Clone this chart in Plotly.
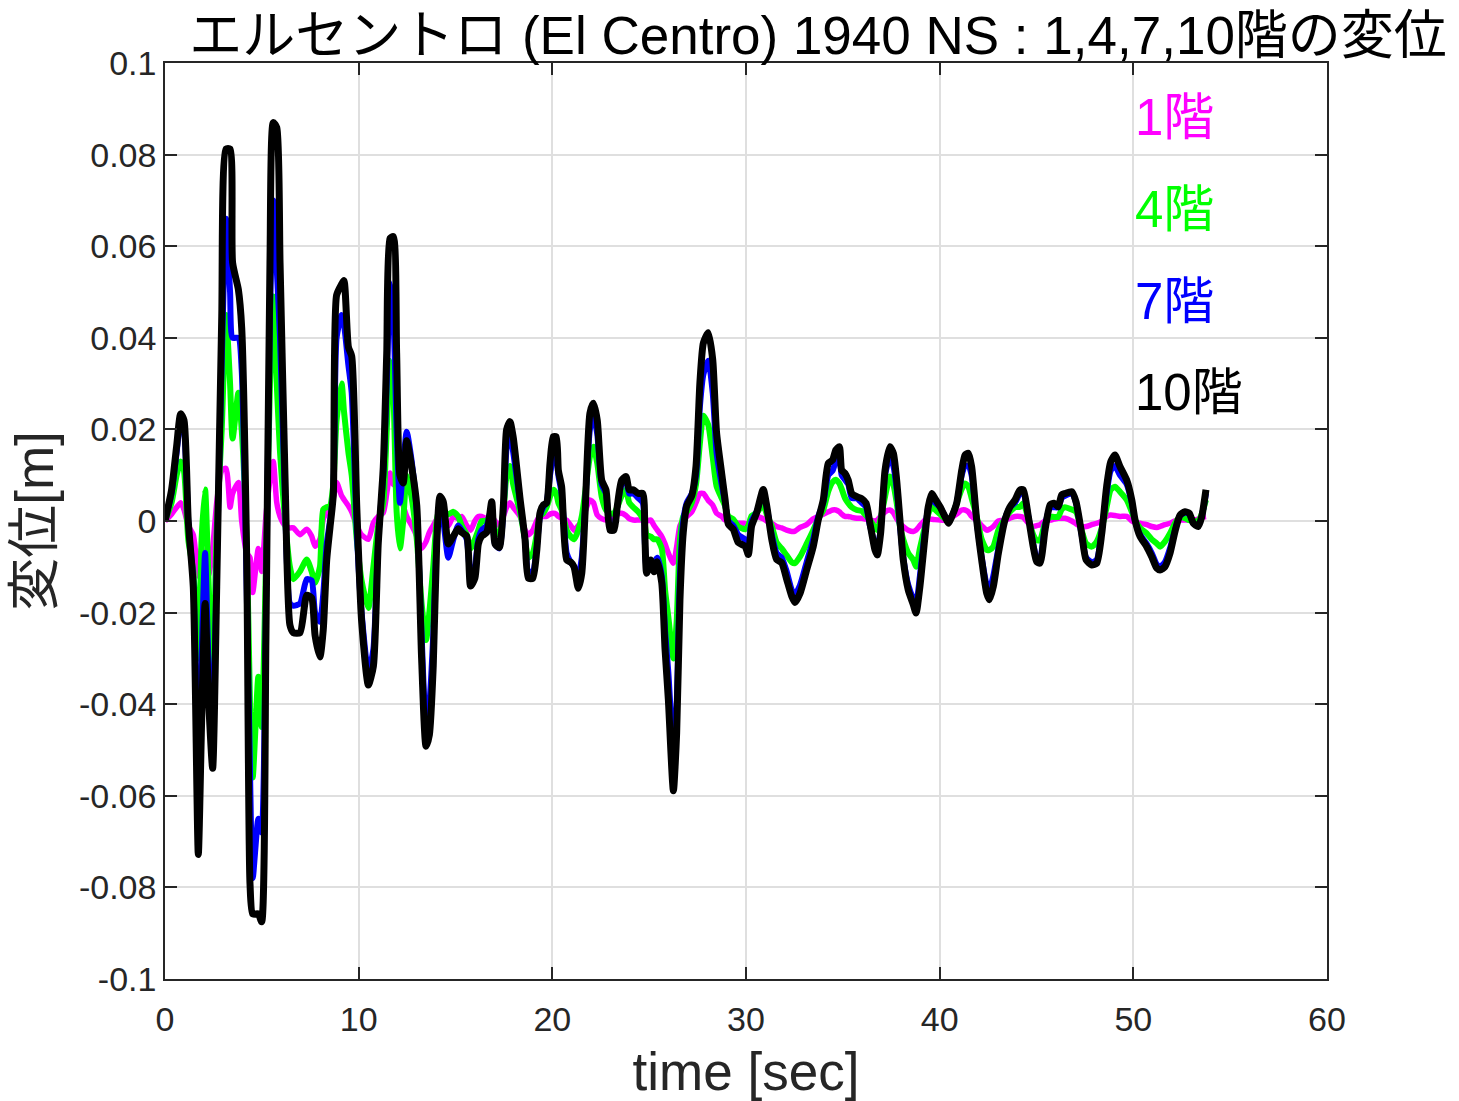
import plotly.graph_objects as go

# time [sec]
t = [0.00, 0.34, 0.60, 0.81, 0.98, 1.20, 1.46, 1.72, 1.89, 2.07, 2.24, 2.46, 2.67, 2.93, 3.15, 3.36, 3.49, 3.79, 3.96,
     4.22, 4.39, 4.53, 4.82, 4.99, 5.21, 5.42, 5.59, 5.77, 5.94, 6.20, 6.45, 6.63, 6.97, 7.32, 7.57, 7.75, 8.00, 8.17,
     8.35, 8.52, 8.69, 8.86, 9.12, 9.24, 9.47, 9.64, 9.90, 10.15, 10.50, 10.76, 11.01, 11.27, 11.45, 11.62, 11.79,
     11.96, 12.13, 12.30, 12.48, 12.74, 13.00, 13.25, 13.48, 13.65, 13.85, 14.03, 14.20, 14.37, 14.63, 14.89, 15.14,
     15.32, 15.58, 15.78, 16.00, 16.18, 16.35, 16.61, 16.87, 17.04, 17.26, 17.47, 17.64, 17.81, 17.98, 18.33, 18.59,
     18.76, 18.99, 19.19, 19.36, 19.53, 19.70, 19.88, 20.05, 20.20, 20.31, 20.48, 20.74, 20.95, 21.12, 21.34, 21.52,
     21.69, 21.94, 22.12, 22.32, 22.55, 22.77, 22.98, 23.18, 23.35, 23.58, 23.80, 23.97, 24.18, 24.44, 24.67, 24.78,
     24.87, 25.08, 25.25, 25.42, 25.65, 25.82, 25.99, 26.25, 26.42, 26.59, 26.76, 26.94, 27.20, 27.42, 27.62, 27.80,
     28.05, 28.28, 28.48, 28.74, 28.92, 29.09, 29.34, 29.60, 29.95, 30.12, 30.29, 30.55, 30.89, 31.07, 31.33, 31.58,
     31.84, 32.10, 32.36, 32.53, 32.79, 33.13, 33.47, 33.73, 33.99, 34.25, 34.47, 34.64, 34.82, 34.94, 35.11, 35.28,
     35.46, 35.72, 35.97, 36.20, 36.40, 36.66, 36.78, 36.95, 37.18, 37.43, 37.61, 37.78, 37.95, 38.12, 38.38, 38.64,
     38.78, 38.98, 39.24, 39.41, 39.59, 39.76, 40.02, 40.28, 40.45, 40.62, 40.88, 41.14, 41.31, 41.48, 41.65, 41.91,
     42.17, 42.43, 42.57, 42.77, 43.03, 43.37, 43.63, 43.89, 44.15, 44.32, 44.58, 44.83, 45.01, 45.18, 45.44, 45.70,
     45.90, 46.12, 46.30, 46.47, 46.82, 47.04, 47.33, 47.56, 47.85, 48.11, 48.37, 48.62, 48.83, 49.05, 49.31, 49.66,
     49.92, 50.09, 50.35, 50.69, 50.95, 51.21, 51.38, 51.63, 51.89, 52.15, 52.41, 52.67, 52.89, 53.10, 53.35, 53.53,
     53.75]

# 10th floor displacement [m]
x10 = [0.0, 0.0068, 0.0163, 0.0234, 0.022, 0.0, -0.0144, -0.0728, -0.0439, -0.018, -0.038, -0.054, -0.0144, 0.0446,
       0.0812, 0.0812, 0.0564, 0.0505, 0.0422, -0.0085, -0.0793, -0.0858, -0.0858, -0.0875, -0.026, 0.0564, 0.087,
       0.0859, 0.0564, 0.0092, -0.0227, -0.0244, -0.0244, -0.0162, -0.0168, -0.025, -0.0297, -0.0238, -0.0085,
       -0.0014, 0.0057, 0.0493, 0.0517, 0.0525, 0.038, 0.036, 0.0033, -0.0217, -0.0358, -0.0317, -0.005, 0.0117,
       0.0367, 0.0617, 0.0621, 0.0367, 0.01, 0.0083, 0.0175, 0.0117, 0.0033, -0.03, -0.0492, -0.0467, -0.0317, -0.005,
       0.0054, 0.0042, -0.005, -0.0033, -0.0017, -0.0025, -0.0033, -0.0142, -0.0125, -0.005, -0.0033, -0.0025, 0.0042,
       -0.005, -0.0058, 0.0033, 0.02, 0.0217, 0.0183, 0.005, -0.004, -0.0125, -0.0125, -0.0067, 0.0017, 0.0035, 0.0039,
       0.0126, 0.0184, 0.0184, 0.0111, 0.0075, -0.0085, -0.009, -0.01, -0.0147, -0.0114, 0.0017, 0.0235, 0.0257, 0.022,
       0.0089, 0.0068, -0.002, -0.002, 0.0031, 0.0089, 0.0097, 0.0068, 0.0068, 0.006, 0.006, -0.0034, -0.0114, -0.0085,
       -0.0111, -0.0089, -0.0135, -0.028, -0.0389, -0.0589, -0.0462, -0.0171, -0.0025, 0.0033, 0.0055, 0.012, 0.0302,
       0.0389, 0.0411, 0.0353, 0.0193, 0.0105, 0.0047, -0.0007, -0.0018, -0.0047, -0.0055, -0.0073, -0.0011, 0.0018,
       0.0069, 0.0033, -0.004, -0.0084, -0.0091, -0.0127, -0.0164, -0.0178, -0.0158, -0.0107, -0.0056, 0.0002, 0.0046,
       0.0126, 0.0133, 0.0155, 0.0162, 0.0111, 0.0104, 0.0089, 0.006, 0.0053, 0.0049, 0.0039, -0.0005, -0.0063,
       -0.0074, -0.0027, 0.0111, 0.0162, 0.0148, 0.0089, 0.0002, -0.0085, -0.0151, -0.0183, -0.0201, -0.0143, -0.0034,
       0.0031, 0.006, 0.0049, 0.0031, 0.0009, -0.0005, 0.0009, 0.0039, 0.0111, 0.0144, 0.0148, 0.0119, 0.0002, -0.0085,
       -0.0158, -0.0172, -0.0143, -0.0071, 0.0002, 0.0031, 0.0046, 0.0068, 0.0068, 0.0009, -0.0056, -0.0089, -0.0092,
       -0.002, 0.0035, 0.0039, 0.0031, 0.0057, 0.006, 0.0064, 0.0042, -0.0027, -0.0085, -0.0096, -0.0092, -0.0027,
       0.0075, 0.0129, 0.0144, 0.0119, 0.0089, 0.0046, 0.0002, -0.0034, -0.0056, -0.0078, -0.0103, -0.0107, -0.01,
       -0.0071, -0.0023, 0.0013, 0.002, 0.0017, -0.0005, -0.0012, 0.0009, 0.0068]

# 7th floor displacement [m]
x7 = [0.0, 0.006, 0.015, 0.022, 0.02, 0.0, -0.013, -0.06, -0.03, -0.007, -0.03, -0.045, -0.01, 0.035, 0.066, 0.05,
      0.04, 0.04, 0.033, -0.015, -0.055, -0.078, -0.065, -0.068, -0.02, 0.045, 0.07, 0.055, 0.04, 0.004, -0.018,
      -0.0185, -0.018, -0.0127, -0.013, -0.02, -0.022, -0.016, -0.005, 0.0, 0.006, 0.04, 0.045, 0.043, 0.034, 0.028,
      -0.002, -0.02, -0.033, -0.028, -0.004, 0.01, 0.03, 0.052, 0.045, 0.02, 0.004, 0.012, 0.0195, 0.013, 0.002,
      -0.025, -0.045, -0.04, -0.025, -0.004, 0.003, 0.0, -0.008, -0.004, -0.001, -0.002, -0.004, -0.012, -0.01, -0.004,
      -0.002, -0.001, 0.003, -0.005, -0.006, 0.002, 0.016, 0.019, 0.015, 0.004, -0.004, -0.011, -0.011, -0.006, 0.001,
      0.003, 0.004, 0.01, 0.014, 0.015, 0.01, 0.006, -0.007, -0.009, -0.01, -0.012, -0.008, 0.003, 0.02, 0.023, 0.019,
      0.008, 0.006, -0.001, -0.001, 0.003, 0.008, 0.009, 0.006, 0.006, 0.005, 0.004, -0.005, -0.01, -0.009, -0.009,
      -0.008, -0.012, -0.024, -0.033, -0.05, -0.04, -0.012, 0.0, 0.004, 0.006, 0.01, 0.025, 0.032, 0.035, 0.028, 0.015,
      0.008, 0.004, 0.0, -0.001, -0.003, -0.004, -0.005, 0.0, 0.002, 0.006, 0.003, -0.003, -0.007, -0.008, -0.011,
      -0.015, -0.016, -0.014, -0.009, -0.004, 0.001, 0.004, 0.01, 0.011, 0.013, 0.0135, 0.01, 0.009, 0.008, 0.005,
      0.005, 0.004, 0.003, -0.001, -0.005, -0.006, -0.002, 0.01, 0.014, 0.012, 0.007, -0.001, -0.008, -0.014, -0.017,
      -0.018, -0.012, -0.002, 0.003, 0.005, 0.004, 0.003, 0.001, 0.0, 0.001, 0.004, 0.01, 0.012, 0.012, 0.01, 0.0,
      -0.008, -0.014, -0.015, -0.012, -0.006, 0.0005, 0.003, 0.004, 0.006, 0.006, 0.001, -0.005, -0.008, -0.008,
      -0.001, 0.003, 0.003, 0.003, 0.005, 0.0055, 0.006, 0.004, -0.003, -0.008, -0.009, -0.0085, -0.002, 0.006, 0.011,
      0.012, 0.01, 0.008, 0.004, 0.0, -0.003, -0.005, -0.007, -0.0095, -0.01, -0.009, -0.006, -0.002, 0.0012, 0.0018,
      0.0015, -0.0005, -0.001, 0.001, 0.006]

# 4th floor displacement [m]
x4 = [0.0, 0.004, 0.01, 0.013, 0.011, -0.004, -0.011, -0.03, -0.004, 0.0069, -0.012, -0.035, -0.002, 0.02, 0.045,
      0.03, 0.018, 0.028, 0.02, -0.005, -0.04, -0.056, -0.034, -0.045, -0.01, 0.03, 0.049, 0.03, 0.015, 0.0, -0.01,
      -0.0127, -0.011, -0.0084, -0.011, -0.0135, -0.01, 0.0025, 0.003, 0.0033, 0.008, 0.022, 0.03, 0.024, 0.015, 0.01,
      -0.004, -0.013, -0.019, -0.01, -0.001, 0.004, 0.02, 0.035, 0.028, 0.002, -0.006, 0.0, 0.01, 0.005, -0.004,
      -0.018, -0.026, -0.02, -0.01, 0.0, 0.003, 0.002, 0.0015, 0.002, 0.001, -0.001, -0.003, -0.006, -0.004, -0.002,
      0.0, 0.0, 0.002, -0.002, -0.003, 0.002, 0.01, 0.012, 0.008, 0.002, -0.004, -0.008, -0.007, -0.003, 0.001, 0.0017,
      0.003, 0.0053, 0.0068, 0.006, 0.004, 0.0024, -0.002, -0.0034, -0.004, -0.002, 0.001, 0.006, 0.014, 0.0162,
      0.0126, 0.0053, 0.0024, 0.0017, 0.0017, 0.003, 0.0055, 0.0068, 0.004, 0.003, 0.002, 0.0005, -0.001, -0.003,
      -0.0034, -0.004, -0.004, -0.006, -0.015, -0.021, -0.03, -0.022, -0.004, 0.001, 0.002, 0.004, 0.008, 0.017, 0.023,
      0.021, 0.014, 0.0076, 0.005, 0.0033, 0.001, 0.0004, -0.0012, -0.0018, -0.001, 0.0011, 0.0018, 0.0035, 0.0015,
      -0.0011, -0.0047, -0.006, -0.0075, -0.009, -0.0092, -0.0078, -0.005, -0.002, 0.0005, 0.0024, 0.0065, 0.0085,
      0.009, 0.0082, 0.007, 0.005, 0.0039, 0.003, 0.0024, 0.0022, 0.0012, 0.0002, -0.0015, -0.002, 0.0005, 0.0053,
      0.0097, 0.008, 0.004, -0.0012, -0.004, -0.007, -0.0085, -0.01, -0.006, -0.0012, 0.0015, 0.0031, 0.0025, 0.0015,
      0.0005, 0.0002, 0.001, 0.0039, 0.007, 0.0082, 0.0075, 0.005, 0.001, -0.004, -0.0063, -0.0063, -0.0056, -0.002,
      0.0005, 0.002, 0.003, 0.0031, 0.0039, 0.0005, -0.003, -0.0042, -0.0042, -0.0005, 0.0009, 0.0009, 0.0009, 0.0025,
      0.003, 0.0025, 0.002, -0.002, -0.0049, -0.0056, -0.0045, -0.0015, 0.003, 0.0068, 0.0075, 0.0064, 0.0046, 0.002,
      0.0002, -0.0015, -0.0027, -0.004, -0.0049, -0.0056, -0.0045, -0.0027, -0.0005, 0.0009, 0.0006, 0.0002, 0.0, 0.0,
      0.0015, 0.0046]

# 1st floor displacement [m]
x1 = [0.0, 0.0015, 0.003, 0.004, 0.0025, -0.001, -0.003, -0.012, -0.006, -0.009, -0.012, -0.006, 0.004, 0.011,
      0.0115, 0.003, 0.006, 0.0084, 0.0, -0.007, -0.008, -0.0156, -0.006, -0.011, 0.001, 0.009, 0.013, 0.004, 0.001,
      -0.001, -0.0015, -0.0015, -0.003, -0.0018, -0.0033, -0.0055, -0.004, 0.0004, 0.002, 0.0033, 0.005, 0.0084,
      0.0055, 0.0047, 0.0033, 0.002, -0.001, -0.003, -0.004, -0.0004, 0.001, 0.0018, 0.006, 0.0105, 0.008, 0.0076,
      0.005, 0.0033, 0.001, -0.001, -0.0033, -0.006, -0.0045, -0.0025, -0.001, 0.0004, 0.001, 0.0, -0.001, 0.001,
      0.0005, 0.001, -0.001, -0.002, 0.0, 0.001, 0.001, 0.0005, 0.001, 0.0, -0.001, 0.001, 0.003, 0.004, 0.003, 0.001,
      -0.002, -0.003, -0.002, 0.0, 0.001, 0.001, 0.001, 0.0015, 0.0017, 0.0015, 0.001, 0.0006, 0.0002, -0.001, -0.002,
      -0.001, 0.0, 0.002, 0.0046, 0.004, 0.0013, 0.0005, 0.0002, 0.0005, 0.001, 0.0015, 0.0017, 0.0012, 0.0005,
      0.0002, 0.0002, 0.0002, 0.0, 0.0, 0.0002, -0.001, -0.002, -0.0034, -0.005, -0.007, -0.0092, -0.0056, -0.001,
      0.0002, 0.001, 0.002, 0.004, 0.006, 0.006, 0.0045, 0.0035, 0.0017, 0.001, 0.0002, 0.0002, 0.0, -0.0005, -0.0005,
      -0.001, 0.0005, 0.001, 0.0005, 0.0, -0.0005, -0.0012, -0.0015, -0.002, -0.0023, -0.0022, -0.0014, -0.0008,
      0.0005, 0.001, 0.0015, 0.002, 0.0024, 0.0024, 0.002, 0.0015, 0.001, 0.001, 0.0008, 0.0006, 0.0006, 0.0004,
      0.0002, 0.0, 0.0002, 0.001, 0.002, 0.0024, 0.0018, 0.0005, -0.0005, -0.0012, -0.002, -0.0023, -0.002, -0.001,
      0.0002, 0.0004, 0.0004, 0.0003, 0.0002, 0.0002, 0.0004, 0.0008, 0.0015, 0.0024, 0.0024, 0.002, 0.001, 0.0002,
      -0.001, -0.002, -0.0018, -0.0012, 0.0, 0.0002, 0.0006, 0.001, 0.001, 0.0008, -0.0005, -0.0012, -0.001, -0.0008,
      0.0, 0.0002, 0.0004, 0.0006, 0.0006, 0.0006, 0.0, -0.0006, -0.0012, -0.0012, -0.0008, -0.0005, 0.0, 0.001,
      0.0013, 0.0012, 0.001, 0.001, 0.0, -0.0003, -0.0005, -0.0008, -0.0012, -0.0014, -0.0012, -0.0008, -0.0005, 0.0,
      0.0002, 0.0002, 0.0002, 0.0002, 0.0004, 0.0008, 0.001]

series = [("1階", x1, "#ff00ff", 5.5), ("4階", x4, "#00ff00", 6), ("7階", x7, "#0000ff", 6), ("10階", x10, "#000000", 7)]
label_y = [0.088, 0.068, 0.048, 0.028]
label_x = 50

x_ticks = [0, 10, 20, 30, 40, 50, 60]
y_ticks = [-0.1, -0.08, -0.06, -0.04, -0.02, 0, 0.02, 0.04, 0.06, 0.08, 0.1]
y_ticktext = ["-0.1", "-0.08", "-0.06", "-0.04", "-0.02", "0", "0.02", "0.04", "0.06", "0.08", "0.1"]

FONT = "Liberation Sans, Arial, Noto Sans CJK JP, sans-serif"

fig = go.Figure()
for name, ys, col, w in series:
    fig.add_trace(go.Scatter(x=t, y=ys, mode="lines", name=name,
                             line=dict(color=col, width=w, shape="spline", smoothing=0.6),
                             showlegend=False))

for (name, ys, col, w), ly in zip(series, label_y):
    fig.add_annotation(x=label_x, y=ly, xref="x", yref="y", text=name, showarrow=False,
                       xanchor="left", yanchor="middle",
                       font=dict(family=FONT, size=51, color=col))

axis_common = dict(showline=True, linecolor="#262626", linewidth=1.5, mirror="ticks",
                   ticks="inside", ticklen=12, tickwidth=1.5, tickcolor="#262626",
                   showgrid=True, gridcolor="#dfdfdf", gridwidth=1.5, zeroline=False,
                   tickfont=dict(family=FONT, size=34, color="#262626"))

fig.update_xaxes(range=[0, 60], tickvals=x_ticks, ticklabelstandoff=9, **axis_common,
                 title=dict(text="time [sec]", font=dict(family=FONT, size=53, color="#262626"), standoff=24))
fig.update_yaxes(range=[-0.1, 0.1], tickvals=y_ticks, ticktext=y_ticktext, ticklabelstandoff=0, **axis_common,
                 title=dict(text="変位[m]", font=dict(family=FONT, size=53, color="#262626"), standoff=8))

fig.update_layout(
    width=1459, height=1101,
    margin=dict(l=165, r=132, t=63, b=122, autoexpand=False),
    paper_bgcolor="white", plot_bgcolor="white",
    title=dict(text="エルセントロ (El Centro) 1940 NS : 1,4,7,10階の変位",
               font=dict(family=FONT, size=53, color="black"),
               xref="paper", x=0.5620, xanchor="center",
               yref="container", y=1 - 35 / 1101, yanchor="middle"),
)

fig.write_html("out.html")
